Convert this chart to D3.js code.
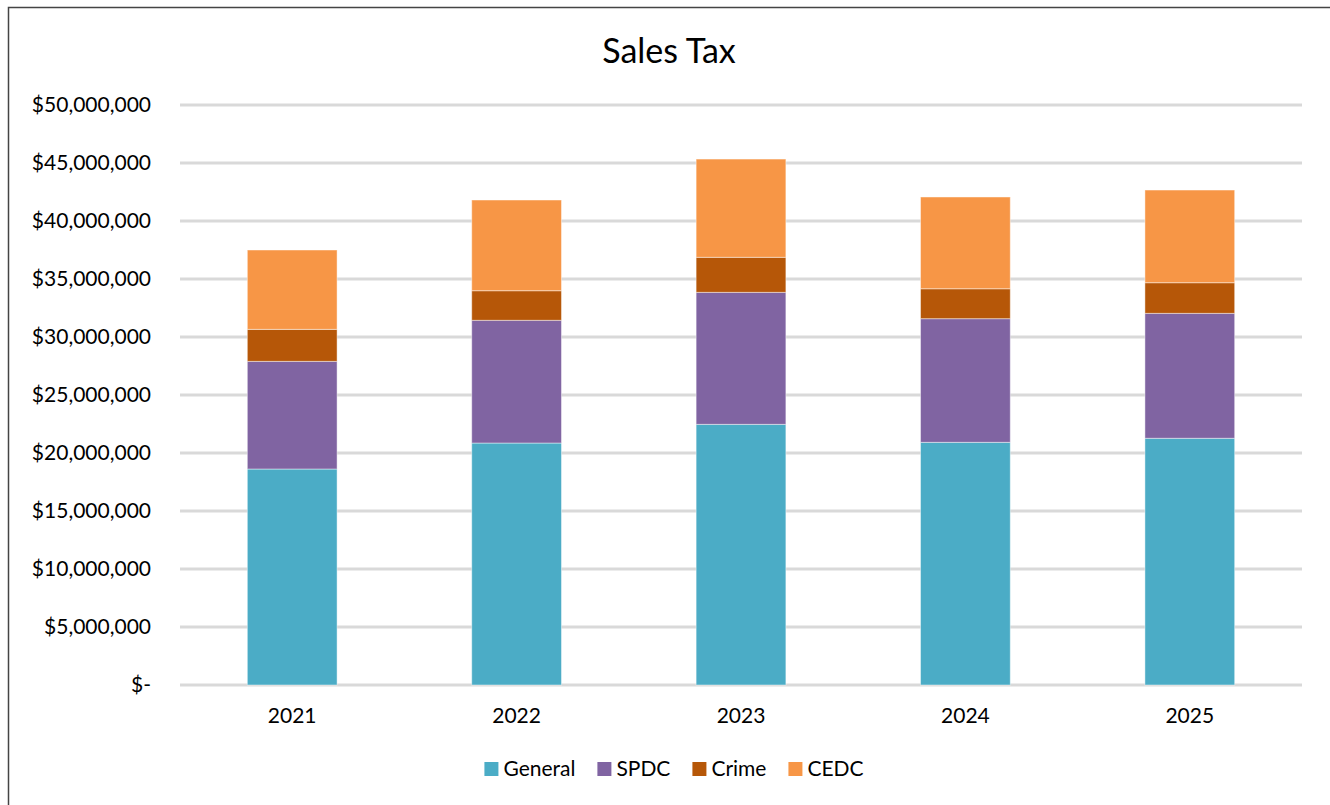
<!DOCTYPE html>
<html>
<head>
<meta charset="utf-8">
<script src="https://cdn.jsdelivr.net/npm/d3@7"></script>
<style>
  body { margin: 0; background: #fff; }
  text { font-family: Lato, "Open Sans", sans-serif; fill: #000; }
</style>
</head>
<body>
<script>
(function() {
    'use strict';

    var years = ['2021', '2022', '2023', '2024', '2025'];
    var seriesNames = ['General', 'SPDC', 'Crime', 'CEDC'];
    var general = [18620000, 20860000, 22470000, 20920000, 21270000];
    var spdc = [9280000, 10580000, 11380000, 10660000, 10770000];
    var crime = [2760000, 2550000, 3020000, 2580000, 2640000];
    var cedc = [6840000, 7820000, 8470000, 7910000, 7990000];
    var colors = ['#4bacc6', '#8064a2', '#b65708', '#f79646'];
    var yTicks = [0, 5e6, 10e6, 15e6, 20e6, 25e6, 30e6, 35e6, 40e6, 45e6, 50e6];

    var width = 1330, height = 805;
    var margin = { left: 180, right: 28, top: 105, bottom: 120 };

    var rows = years.map(function(y, i) {
        return { year: y, General: general[i], SPDC: spdc[i], Crime: crime[i], CEDC: cedc[i] };
    });
    var stacked = d3.stack().keys(seriesNames)(rows);

    var svg = d3.select('body').append('svg')
        .attr('width', width)
        .attr('height', height);

    // chart frame
    svg.append('rect')
        .attr('x', 8.5).attr('y', 7.5)
        .attr('width', width + 10).attr('height', height + 10)
        .attr('fill', '#fff')
        .attr('stroke', '#444')
        .attr('stroke-width', 1.5);

    var x = d3.scaleBand()
        .domain(years)
        .range([margin.left, width - margin.right])
        .paddingInner(0.6)
        .paddingOuter(0.3);

    var y = d3.scaleLinear()
        .domain([0, 50e6])
        .range([height - margin.bottom, margin.top]);

    // gridlines
    svg.append('g')
        .selectAll('line')
        .data(yTicks)
        .join('line')
        .attr('x1', margin.left).attr('x2', width - margin.right)
        .attr('y1', function(d) { return y(d); })
        .attr('y2', function(d) { return y(d); })
        .attr('stroke', '#d9d9d9')
        .attr('stroke-width', 3);

    // y axis labels
    var fmt = d3.format(',');
    svg.append('g')
        .selectAll('text')
        .data(yTicks)
        .join('text')
        .attr('x', 151)
        .attr('y', function(d) { return y(d); })
        .attr('dy', '0.35em')
        .attr('text-anchor', 'end')
        .style('font-size', '21px')
        .text(function(d) { return d === 0 ? '$-' : '$' + fmt(d); });

    // bars
    svg.append('g')
        .selectAll('g')
        .data(stacked)
        .join('g')
        .attr('fill', function(d, i) { return colors[i]; })
        .selectAll('rect')
        .data(function(d) { return d; })
        .join('rect')
        .attr('x', function(d) { return x(d.data.year); })
        .attr('y', function(d) { return y(d[1]); })
        .attr('width', x.bandwidth())
        .attr('height', function(d) { return y(d[0]) - y(d[1]); })
        .attr('stroke', '#ffffff')
        .attr('stroke-opacity', 0.45)
        .attr('stroke-width', 1);

    // x axis labels
    svg.append('g')
        .selectAll('text')
        .data(years)
        .join('text')
        .attr('x', function(d) { return x(d) + x.bandwidth() / 2; })
        .attr('y', height - margin.bottom + 31)
        .attr('dy', '0.35em')
        .attr('text-anchor', 'middle')
        .style('font-size', '21px')
        .text(function(d) { return d; });

    // title
    svg.append('text')
        .attr('x', 669)
        .attr('y', 51)
        .attr('dy', '0.35em')
        .attr('text-anchor', 'middle')
        .style('font-size', '34px')
        .text('Sales Tax');

    // legend
    var legend = svg.append('g');
    var items = legend.selectAll('g')
        .data(seriesNames)
        .join('g');
    items.append('rect')
        .attr('width', 14).attr('height', 14)
        .attr('y', -7)
        .attr('fill', function(d, i) { return colors[i]; });
    items.append('text')
        .attr('x', 19)
        .attr('dy', '0.35em')
        .style('font-size', '21px')
        .text(function(d) { return d; });

    var offset = 0;
    items.each(function() {
        var w = this.getBBox().width;
        d3.select(this).attr('transform', 'translate(' + offset + ',0)');
        offset += w + 22;
    });
    var total = offset - 22;
    legend.attr('transform', 'translate(' + (674 - total / 2) + ',769)');
}());
</script>
</body>
</html>
